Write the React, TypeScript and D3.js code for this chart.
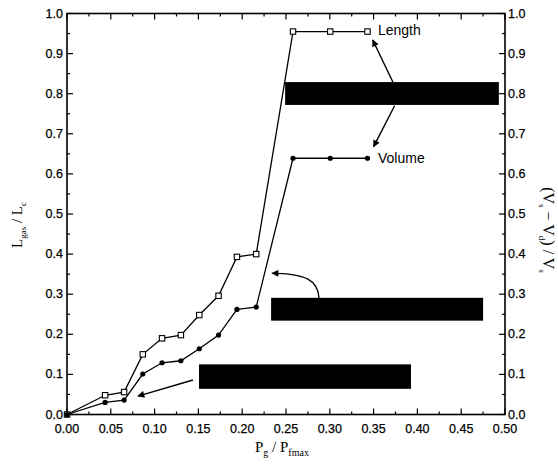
import React from "react";
import * as d3 from "d3";

const W = 558;
const H = 466;

const xValues = [0, 0.0435, 0.0652, 0.0865, 0.1085, 0.13, 0.151, 0.173, 0.194, 0.216, 0.258, 0.3005, 0.343];
const lengthValues = [0, 0.048, 0.056, 0.15, 0.19, 0.198, 0.248, 0.296, 0.393, 0.4, 0.955, 0.955, 0.955];
const volumeValues = [0, 0.03, 0.036, 0.101, 0.129, 0.134, 0.164, 0.198, 0.262, 0.268, 0.639, 0.639, 0.639];

const xTicks = [0, 0.05, 0.1, 0.15, 0.2, 0.25, 0.3, 0.35, 0.4, 0.45, 0.5];
const yTicks = [0, 0.1, 0.2, 0.3, 0.4, 0.5, 0.6, 0.7, 0.8, 0.9, 1.0];

// black boxes [x0, x1, y0, y1] in data units
const boxes = [
  [0.249, 0.493, 0.772, 0.829],
  [0.233, 0.475, 0.234, 0.291],
  [0.1507, 0.3927, 0.064, 0.125],
];

export default function App() {
  const x = d3.scaleLinear().domain([0, 0.5]).range([67, 505]);
  const y = d3.scaleLinear().domain([0, 1]).range([414.5, 13.5]);
  const x0 = x(0), x1 = x(0.5), y0 = y(0), y1 = y(1);

  const line = d3
    .line<number>()
    .x((_, i) => x(xValues[i]))
    .y((d) => d);

  const lenPath = line(lengthValues.map((v) => y(v))) || "";
  const volPath = line(volumeValues.map((v) => y(v))) || "";

  const xMinor = d3.range(0, 0.5001, 0.025);
  const yMinor = d3.range(0, 1.0001, 0.05);

  const tickFont = "'Liberation Sans', Arial, sans-serif";
  const serif = "'Liberation Serif', 'Times New Roman', serif";

  const arrowPath = (pts: [number, number][]) =>
    "M" + pts.map((p) => `${x(p[0])},${y(p[1])}`).join("L");

  const c = (px: number, py: number) => `${x(px)},${y(py)}`;

  return (
    <svg
      width={W}
      height={H}
      style={{ position: "absolute", left: 0, top: 0, background: "#fff" }}
      xmlns="http://www.w3.org/2000/svg"
    >
      <defs>
        <marker id="ah" viewBox="0 0 10 10" refX="9" refY="5" markerWidth="10" markerHeight="7" orient="auto" markerUnits="userSpaceOnUse">
          <path d="M0,0 L10,5 L0,10 z" fill="#000" />
        </marker>
      </defs>
      <rect x={0} y={0} width={W} height={H} fill="#fff" />

      {/* frame */}
      <rect x={x0} y={y1} width={x1 - x0} height={y0 - y1} fill="none" stroke="#000" strokeWidth={1.6} />

      {/* x ticks bottom & top */}
      {xMinor.map((t, i) => {
        const major = i % 2 === 0;
        const len = major ? 6 : 3;
        return (
          <g key={"xt" + i} stroke="#000" strokeWidth={1.2}>
            <line x1={x(t)} x2={x(t)} y1={y0} y2={y0 - len} />
            <line x1={x(t)} x2={x(t)} y1={y1} y2={y1 + len} />
          </g>
        );
      })}
      {/* y ticks left & right */}
      {yMinor.map((t, i) => {
        const major = i % 2 === 0;
        const len = major ? 6 : 3;
        return (
          <g key={"yt" + i} stroke="#000" strokeWidth={1.2}>
            <line x1={x0} x2={x0 + len} y1={y(t)} y2={y(t)} />
            <line x1={x1} x2={x1 - len} y1={y(t)} y2={y(t)} />
          </g>
        );
      })}

      {/* tick labels */}
      {xTicks.map((t) => (
        <text key={"xl" + t} x={x(t)} y={433} textAnchor="middle" fontFamily={tickFont} fontSize={12.5} fill="#000" stroke="#000" strokeWidth={0.25}>
          {t.toFixed(2)}
        </text>
      ))}
      {yTicks.map((t) => (
        <text key={"yl" + t} x={63} y={y(t) + 4} textAnchor="end" fontFamily={tickFont} fontSize={12.5} fill="#000" stroke="#000" strokeWidth={0.25}>
          {t.toFixed(1)}
        </text>
      ))}
      {yTicks.map((t) => (
        <text key={"yr" + t} x={508} y={y(t) + 4} textAnchor="start" fontFamily={tickFont} fontSize={12.5} fill="#000" stroke="#000" strokeWidth={0.25}>
          {t.toFixed(1)}
        </text>
      ))}

      {/* axis titles */}
      <text x={255} y={452} fontFamily={serif} fontSize={15} fill="#000">
        P<tspan fontSize={10} dy={4}>g</tspan>
        <tspan dy={-4}> / P</tspan>
        <tspan fontSize={10} dy={4}>fmax</tspan>
      </text>
      <text transform={`translate(22,${225}) rotate(-90)`} textAnchor="middle" fontFamily={serif} fontSize={15} fill="#000">
        L<tspan fontSize={9} dy={4}>gas</tspan>
        <tspan dy={-4}> / L</tspan>
        <tspan fontSize={9} dy={4}>c</tspan>
      </text>
      <text transform={`translate(543,${230}) rotate(90)`} textAnchor="middle" fontFamily={serif} fontSize={16} fill="#000">
        (V<tspan fontSize={9} dy={4}>s</tspan>
        <tspan dy={-4}> − V</tspan>
        <tspan fontSize={9} dy={4}>d</tspan>
        <tspan dy={-4}>) / V</tspan>
        <tspan fontSize={9} dy={4}>s</tspan>
      </text>

      {/* series */}
      <path d={lenPath} fill="none" stroke="#000" strokeWidth={1.3} />
      <path d={volPath} fill="none" stroke="#000" strokeWidth={1.3} />
      {xValues.map((xv, i) => (
        <rect key={"sq" + i} x={x(xv) - 2.7} y={y(lengthValues[i]) - 2.7} width={5.4} height={5.4} fill="#fff" stroke="#000" strokeWidth={1.1} />
      ))}
      {xValues.map((xv, i) => (
        <circle key={"ci" + i} cx={x(xv)} cy={y(volumeValues[i])} r={2.6} fill="#000" />
      ))}

      {/* labels */}
      <text x={x(0.355)} y={y(0.946)} fontFamily={tickFont} fontSize={14} fill="#000">Length</text>
      <text x={x(0.355)} y={y(0.627)} fontFamily={tickFont} fontSize={14} fill="#000">Volume</text>

      {/* black boxes */}
      {boxes.map((b, i) => (
        <rect key={"bx" + i} x={x(b[0])} y={y(b[3])} width={x(b[1]) - x(b[0])} height={y(b[2]) - y(b[3])} fill="#000" />
      ))}

      {/* arrows */}
      <g fill="none" stroke="#000" strokeWidth={1.4}>
        <path d={arrowPath([[0.372, 0.829], [0.349, 0.934]])} markerEnd="url(#ah)" />
        <path d={arrowPath([[0.374, 0.77], [0.35, 0.668]])} markerEnd="url(#ah)" />
        <path d={`M${c(0.2877, 0.2905)}C${c(0.2865, 0.335)} ${c(0.2717, 0.352)} ${c(0.234, 0.352)}`} markerEnd="url(#ah)" />
        <path d={arrowPath([[0.1438, 0.086], [0.081, 0.046]])} markerEnd="url(#ah)" />
      </g>
    </svg>
  );
}
